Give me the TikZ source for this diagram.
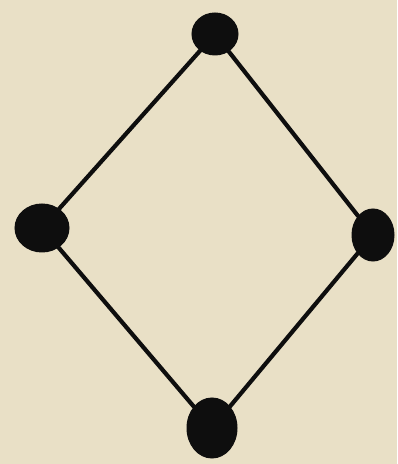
\documentclass[tikz,border=0pt]{standalone}
\usepackage{tikz}
\usetikzlibrary{shapes.geometric}
\definecolor{paper}{HTML}{E9E0C6}
\definecolor{ink}{HTML}{0E0E0E}
\begin{document}
\begin{tikzpicture}[x=1pt, y=1pt, line width=4.2pt]
    % Styles
    \tikzstyle{dot} = [ellipse, fill=ink, draw=ink, line width=1pt, inner sep=0pt]
    \tikzstyle{edge} = [draw=ink, line cap=round]

    % Paper
    \fill[paper] (0,0) rectangle (397,464);
    \useasboundingbox (0,0) rectangle (397,464);

    % Corners
    \node (Top) [dot, minimum width=46pt, minimum height=42pt] at (215,430) {};
    \node (Left) [dot, minimum width=54pt, minimum height=48pt] at (42,236) {};
    \node (Right) [dot, minimum width=42pt, minimum height=52pt] at (373,229) {};
    \node (Bottom) [dot, minimum width=50pt, minimum height=60pt] at (212,36) {};

    % Sides
    \draw [edge] (Top) -- (Left);
    \draw [edge] (Top) -- (Right);
    \draw [edge] (Left) -- (Bottom);
    \draw [edge] (Right) -- (Bottom);

\end{tikzpicture}
\end{document}
